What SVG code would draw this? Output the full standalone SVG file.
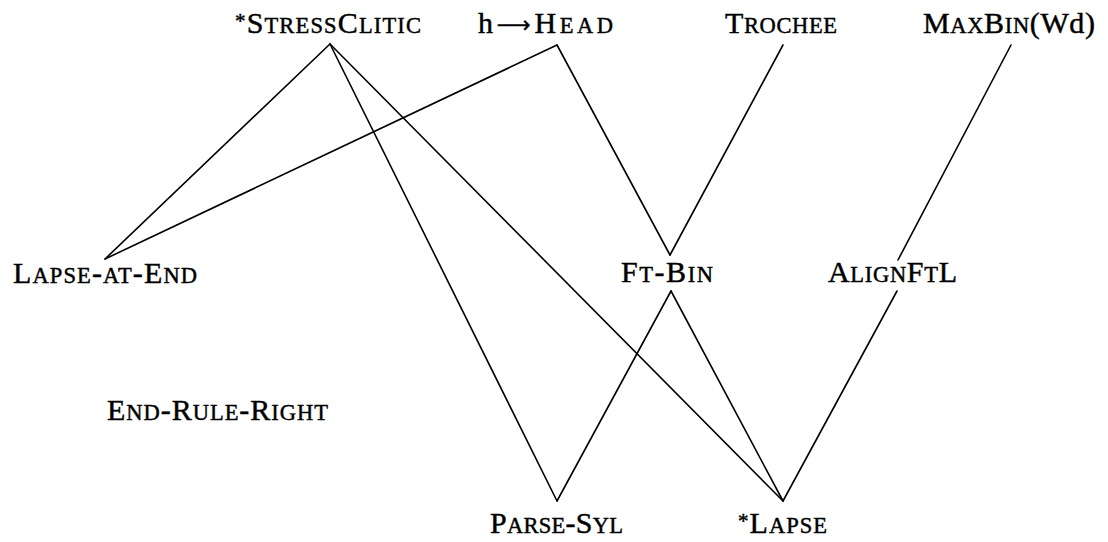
<svg xmlns="http://www.w3.org/2000/svg" width="1108" height="542" viewBox="0 0 1108 542">
<style>
text{font-family:"Liberation Serif","DejaVu Serif",serif;font-size:30px;fill:#000;stroke:#000;stroke-width:0.45}
.s{font-size:22.5px}
.a{font-size:21px}
.arr{font-family:"DejaVu Sans",sans-serif;font-size:24px;stroke-width:0.2}
#connectors line{stroke:#000;stroke-width:1.6;stroke-linecap:round}
</style>
<rect width="1108" height="542" fill="#fff"/>
<g id="connectors">
<line x1="330" y1="44" x2="105" y2="259"/>
<line x1="330" y1="44" x2="557" y2="501"/>
<line x1="330" y1="44" x2="783" y2="501"/>
<line x1="557" y1="45" x2="105" y2="259"/>
<line x1="557" y1="45" x2="670" y2="255"/>
<line x1="783" y1="45" x2="670" y2="255"/>
<line x1="1011" y1="45" x2="898" y2="260"/>
<line x1="671" y1="291" x2="557" y2="501"/>
<line x1="671" y1="291" x2="783" y2="501"/>
<line x1="897" y1="291" x2="783" y2="501"/>
</g>
<g id="stressclitic"><text x="235" y="33" textLength="186" lengthAdjust="spacing"><tspan class="a" dy="-5">*</tspan><tspan dy="5">S</tspan><tspan class="s">TRESS</tspan>C<tspan class="s">LITIC</tspan></text></g>
<g id="h-head"><text x="478" y="33" textLength="135" lengthAdjust="spacing">h<tspan class="arr">⟶</tspan>H<tspan class="s">EAD</tspan></text></g>
<g id="trochee"><text x="725" y="33" textLength="112" lengthAdjust="spacing">T<tspan class="s">ROCHEE</tspan></text></g>
<g id="maxbin"><text x="923" y="33" textLength="172" lengthAdjust="spacing">M<tspan class="s">AX</tspan>B<tspan class="s">IN</tspan>(Wd)</text></g>
<g id="lapse-at-end"><text x="13" y="283" textLength="184" lengthAdjust="spacing">L<tspan class="s">APSE</tspan>-<tspan class="s">AT</tspan>-E<tspan class="s">ND</tspan></text></g>
<g id="ft-bin"><text x="621" y="282" textLength="92" lengthAdjust="spacing">F<tspan class="s">T</tspan>-B<tspan class="s">IN</tspan></text></g>
<g id="alignftl"><text x="828" y="282" textLength="129" lengthAdjust="spacing">A<tspan class="s">LIGN</tspan>F<tspan class="s">T</tspan>L</text></g>
<g id="end-rule-right"><text x="107" y="420" textLength="221" lengthAdjust="spacing">E<tspan class="s">ND</tspan>-R<tspan class="s">ULE</tspan>-R<tspan class="s">IGHT</tspan></text></g>
<g id="parse-syl"><text x="490" y="533" textLength="133" lengthAdjust="spacing">P<tspan class="s">ARSE</tspan>-S<tspan class="s">YL</tspan></text></g>
<g id="lapse"><text x="738" y="533" textLength="89" lengthAdjust="spacing"><tspan class="a" dy="-5">*</tspan><tspan dy="5">L</tspan><tspan class="s">APSE</tspan></text></g>
</svg>
